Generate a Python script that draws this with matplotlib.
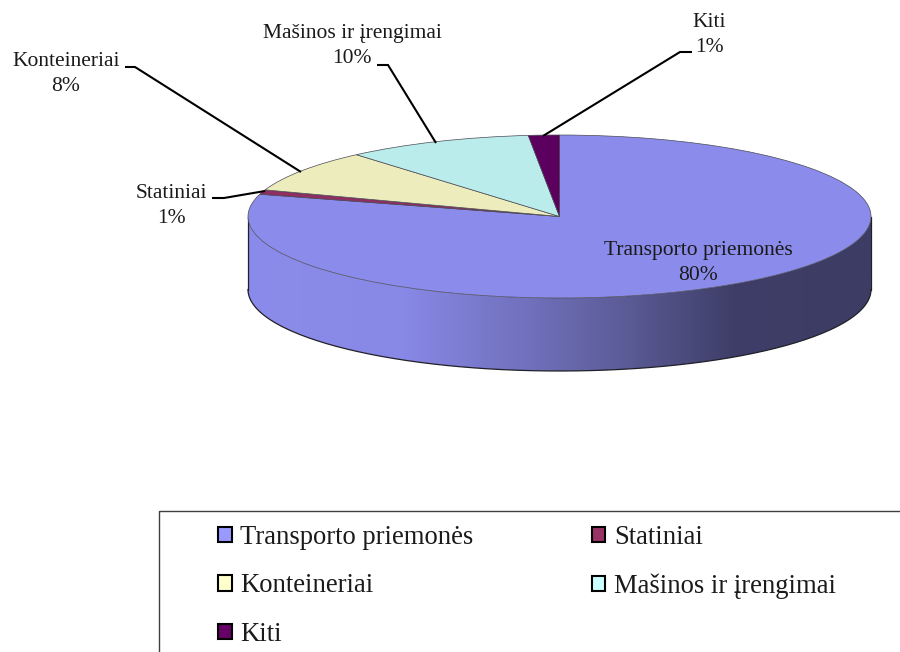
import numpy as np
import matplotlib
matplotlib.use("Agg")
import matplotlib.pyplot as plt
from matplotlib.colors import LinearSegmentedColormap
from matplotlib.patches import Patch, PathPatch
from matplotlib.path import Path

plt.rcParams['font.family'] = ['Liberation Serif', 'DejaVu Serif']

# duomenys
categories = ["Transporto priemonės", "Statiniai", "Konteineriai", "Mašinos ir įrengimai", "Kiti"]
pct_labels = ["80%", "1%", "8%", "10%", "1%"]
# slice sizes as measured on the picture (labels are rounded)
slice_sizes = [79.4, 0.9, 8.4, 9.7, 1.6]
top_colors = ["#8B8BEB", "#8E2E62", "#ECECBC", "#BAECEC", "#5C0060"]
legend_colors = ["#9999FF", "#993366", "#FFFFCC", "#CCFFFF", "#660066"]

W, H = 900, 652
cx, cy, rx, ry, depth = 559.5, 216.5, 311.5, 81.5, 73

fig = plt.figure(figsize=(W / 100, H / 100), dpi=100)
ax = fig.add_axes([0, 0, 1, 1])

# virsutine pie dalis, suspausta i elipse
ax.pie(slice_sizes, colors=top_colors, startangle=90, counterclock=False, radius=1,
       wedgeprops={"edgecolor": "#4a4a55", "linewidth": 0.5, "zorder": 3})
ax.set_aspect("auto")

# sonine siena su gradientu
theta = np.linspace(np.pi, 2 * np.pi, 200)
d = depth / ry
wall_x = np.concatenate([np.cos(theta), np.cos(theta[::-1])])
wall_y = np.concatenate([np.sin(theta), np.sin(theta[::-1]) - d])
wall = PathPatch(Path(np.column_stack([wall_x, wall_y])), facecolor="none",
                 edgecolor="none", transform=ax.transData)
ax.add_patch(wall)
cmap = LinearSegmentedColormap.from_list("wall", [
    (0.0, "#8B8BEB"), (0.25, "#8888E6"), (0.45, "#7070BC"),
    (0.6, "#5C5C98"), (0.78, "#3E3E68"), (1.0, "#3C3C64")])
img = ax.imshow(np.linspace(0, 1, 256).reshape(1, -1), cmap=cmap, aspect="auto",
                extent=(-1, 1, -1 - d, 0), zorder=1, interpolation="bilinear")
img.set_clip_path(wall)
ax.plot(np.cos(theta), np.sin(theta) - d, color="#202028", lw=0.9, zorder=2)
ax.plot([-1, -1], [0, -d], color="#202028", lw=0.9, zorder=2)
ax.plot([1, 1], [0, -d], color="#202028", lw=0.9, zorder=2)

ax.set_xlim(-cx / rx, (W - cx) / rx)
ax.set_ylim((cy - H) / ry, cy / ry)
ax.axis("off")

# virsutinis sluoksnis pikseliais: uzrasai ir legenda
ov = fig.add_axes([0, 0, 1, 1], facecolor="none")
ov.set_xlim(0, W)
ov.set_ylim(H, 0)
ov.axis("off")

label_pos = [(698, 263), (171, 206), (66, 74), (352, 46), (709, 35)]
for name, pct, (x, y) in zip(categories, pct_labels, label_pos):
    ov.text(x, y, name + "\n" + pct, ha="center", va="center", fontsize=15.5,
            color="#1a1a1a", linespacing=1.36)

leaders = [
    ([212, 224, 265], [198, 198, 191]),
    ([125, 135, 301], [67, 67, 172]),
    ([377, 388, 436], [65, 65, 143]),
    ([692, 680, 543], [52, 52, 136]),
]
for lx, ly in leaders:
    ov.plot(lx, ly, color="black", lw=1.5, solid_capstyle="butt", solid_joinstyle="miter")

# legendos remelis iseina uz paveikslo
ov.plot([W, 159, 159], [511, 511, H], color="#404040", lw=1.0, clip_on=False)

handles = [Patch(facecolor=legend_colors[i], edgecolor="black", linewidth=1.5, label=categories[i])
           for i in [0, 2, 4, 1, 3]]
ov.legend(handles=handles, ncol=2, loc="upper left", bbox_to_anchor=(218, 525),
          bbox_transform=ov.transData, frameon=False, fontsize=19.2, borderpad=0,
          borderaxespad=0, handlelength=0.52, handleheight=0.52, handletextpad=0.32,
          labelspacing=0.88, columnspacing=4.42, labelcolor="#1a1a1a")

fig.savefig("out.png", dpi=100)
